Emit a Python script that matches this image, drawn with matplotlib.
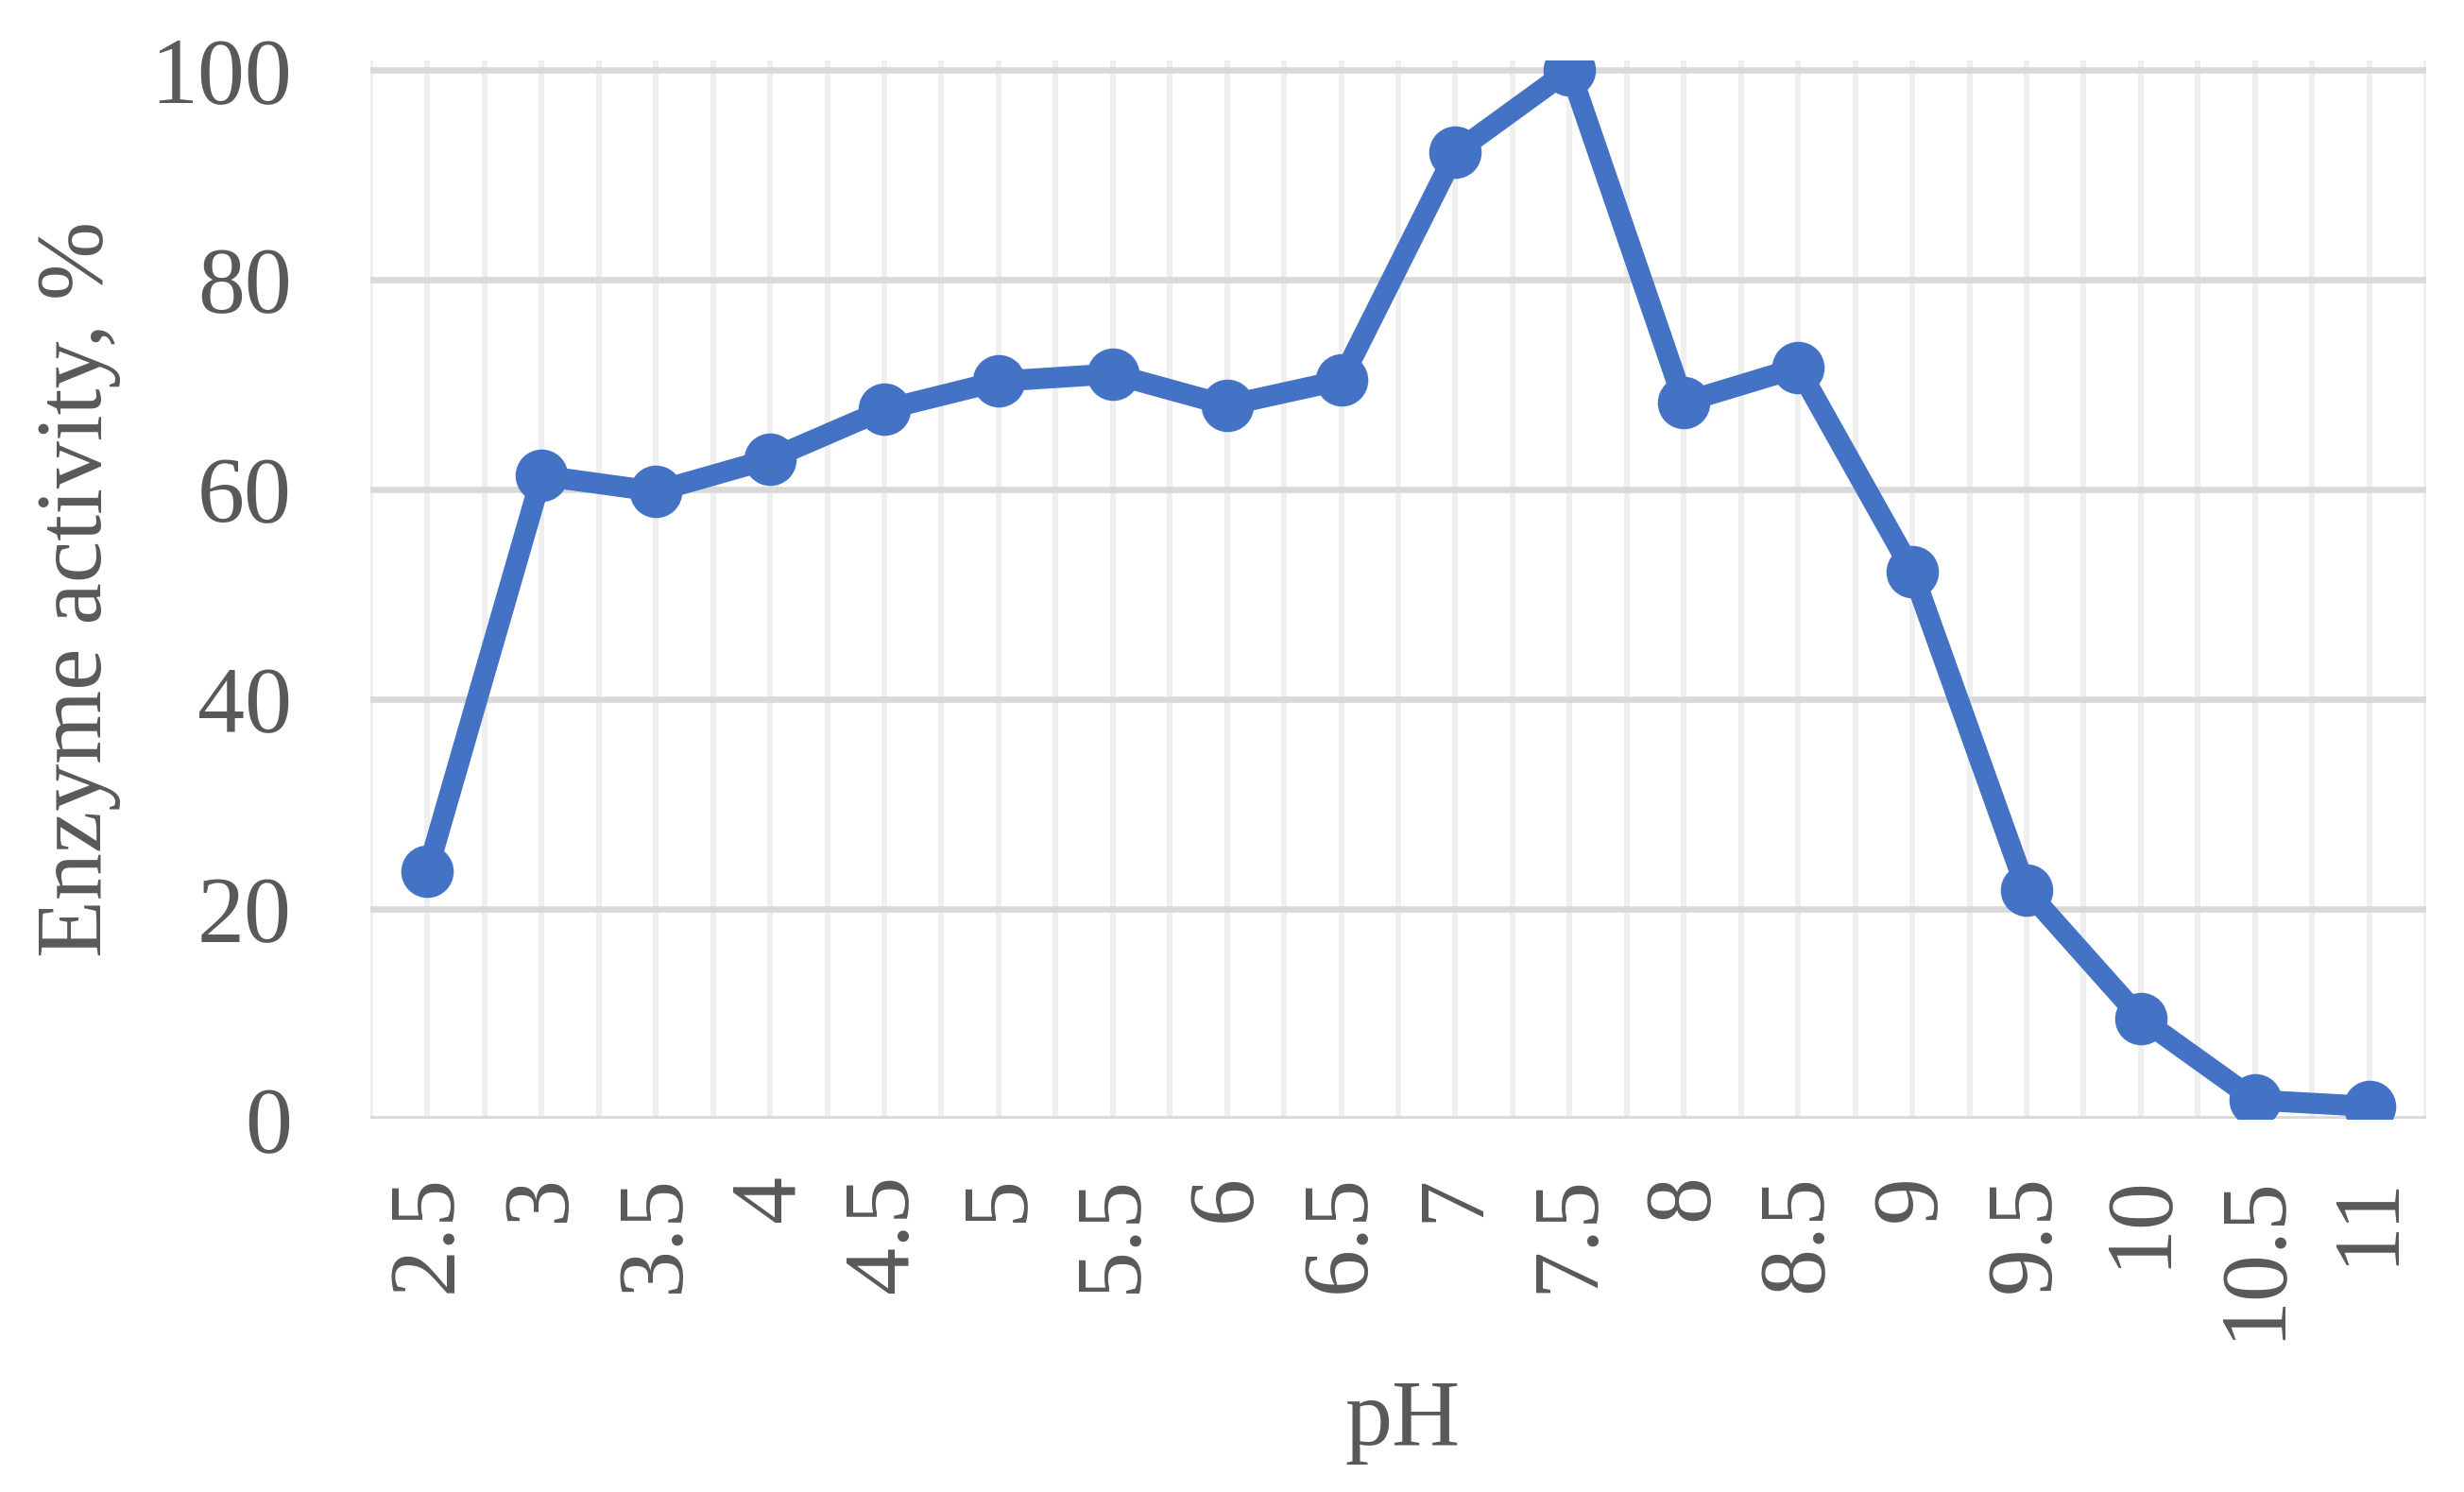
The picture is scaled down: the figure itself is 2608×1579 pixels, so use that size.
import numpy as np
import matplotlib
matplotlib.use("Agg")
import matplotlib.pyplot as plt

# Données
ph_labels = ["2.5", "3", "3.5", "4", "4.5", "5", "5.5", "6", "6.5",
             "7", "7.5", "8", "8.5", "9", "9.5", "10", "10.5", "11"]
activity = [23.6, 61.3, 59.8, 62.9, 67.6, 70.3, 71.0, 68.0, 70.4,
            92.1, 100.0, 68.3, 71.6, 52.2, 21.8, 9.6, 1.8, 1.2]
y_ticks = [0, 20, 40, 60, 80, 100]

plt.rcParams["font.family"] = ["Liberation Serif", "DejaVu Serif"]
txt = "#595959"
fs = 36

fig = plt.figure(figsize=(13.04, 7.895), dpi=200)
ax = fig.add_axes([0.1503, 0.250, 0.8344, 0.7097])

x = np.arange(len(ph_labels))
n = len(ph_labels)

# Grilles
for xv in np.arange(-0.5, n, 0.5):
	ax.axvline(xv, color="#EFEFEF", linewidth=2.2, zorder=0)
for yv in y_ticks:
	ax.axhline(yv, color="#D9D9D9", linewidth=2.4, zorder=1)

ax.plot(x, activity, "-o", color="#4472C4", linewidth=8, markersize=19, zorder=3,
	solid_joinstyle="round")

ax.set_xlim(-0.5, n - 0.5)
ax.set_ylim(0, 100.9)
ax.set_yticks(y_ticks)
ax.set_yticklabels([str(v) for v in y_ticks], fontsize=fs, color=txt)
ax.set_xticks(x)
ax.set_xticklabels(ph_labels, rotation=90, fontsize=fs, color=txt, va="top", ha="center")
ax.tick_params(axis="both", length=0)
ax.tick_params(axis="y", pad=30)
ax.tick_params(axis="x", pad=21)
for s in ax.spines.values():
	s.set_visible(False)

fig.text(0.569, 0.047, "pH", fontsize=fs, color=txt, ha="center", va="center")
fig.text(0.032, 0.605, "Enzyme activity, %", fontsize=fs, color=txt, ha="center",
	va="center", rotation=90)

fig.savefig("out.png", dpi=200)
